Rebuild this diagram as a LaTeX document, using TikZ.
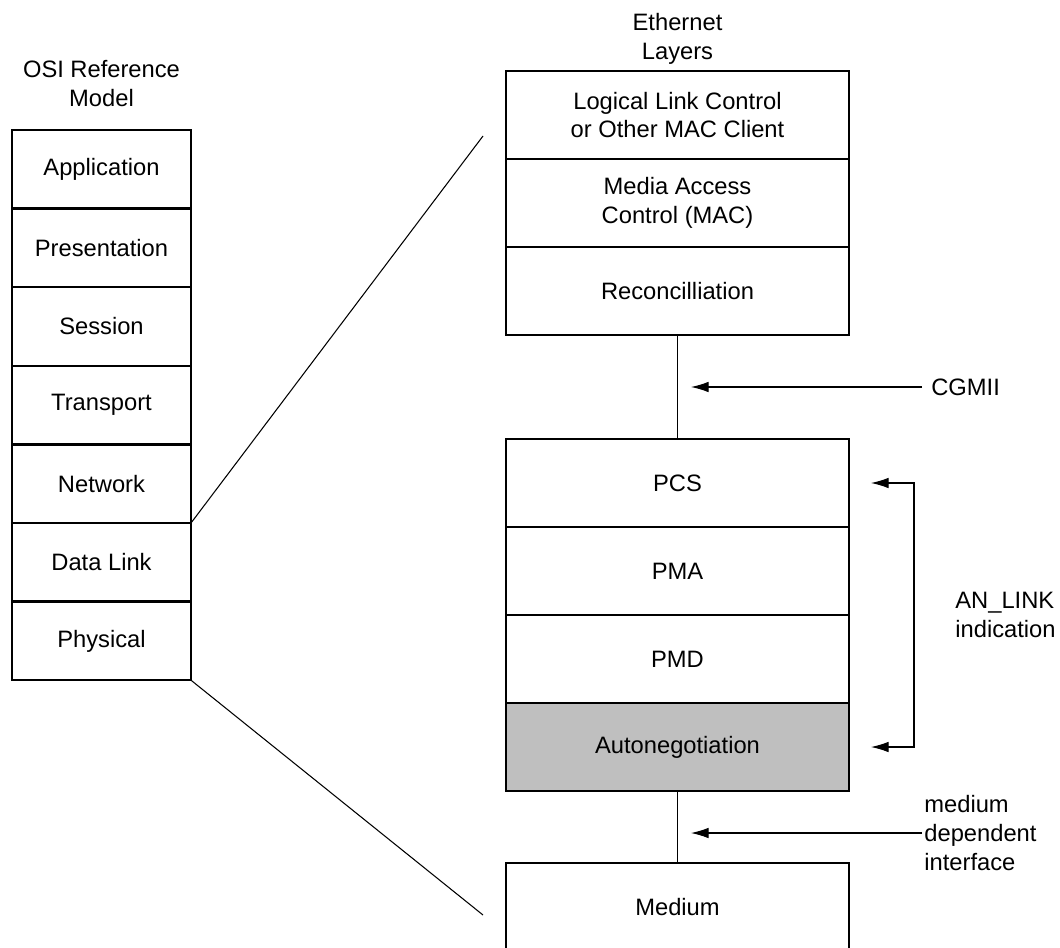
\documentclass[tikz,border=0pt]{standalone}
\usepackage{fontspec}
\setmainfont{Liberation Sans}
\usetikzlibrary{arrows.meta,calc,positioning}

\tikzset{
  osibox/.style={draw,line width=1.3pt,outer sep=0pt,minimum width=3.58cm,minimum height=1.572cm,align=center},
  ethbox/.style={draw,line width=1.3pt,outer sep=0pt,minimum width=6.86cm,minimum height=1.76cm,align=center},
  lbl/.style={inner sep=0pt,align=left},
  ttl/.style={inner sep=0pt,align=center},
  link/.style={line width=0.6pt},
  tip/.style={-{Latex[length=10pt,width=6pt]},line width=0.6pt}
}

\begin{document}
\begin{tikzpicture}[font=\fontsize{13.5}{16.4}\selectfont]
  \clip (0,0) rectangle (21.2,-18.94);
  % OSI stack
  \node[osibox] (app) at (2.03,-3.386) {Application};
  \node[osibox,below=0pt of app] (pres) {Presentation};
  \node[osibox,below=0pt of pres] (sess) {Session};
  \node[osibox,below=0pt of sess] (trans) {Transport};
  \node[osibox,below=0pt of trans] (net) {Network};
  \node[osibox,below=0pt of net] (dlink) {Data Link};
  \node[osibox,below=0pt of dlink] (phys) {Physical};
  \node[ttl,above=0.46cm of app] (osititle) {OSI Reference\\Model};

  % Ethernet stack
  \node[ethbox] (llc) at (13.55,-2.3) {Logical Link Control\\or Other MAC Client};
  \node[ethbox,below=0pt of llc] (mac) {Media Access\\Control (MAC)};
  \node[ethbox,below=0pt of mac] (rec) {Reconcilliation};
  \node[ethbox,below=2.08cm of rec] (pcs) {PCS};
  \node[ethbox,below=0pt of pcs] (pma) {PMA};
  \node[ethbox,below=0pt of pma] (pmd) {PMD};
  \node[ethbox,fill=black!25,below=0pt of pmd] (auto) {Autonegotiation};
  \node[ethbox,below=1.44cm of auto] (medium) {Medium};
  \node[ttl,above=0.12cm of llc] (ethtitle) {Ethernet\\Layers};

  \draw[link] (rec) -- (pcs);
  \draw[link] (auto) -- (medium);

  % zoom lines
  \coordinate (ethtop) at (9.66,-2.72);
  \coordinate (ethbot) at (9.66,-18.3);
  \draw[link] (dlink.north east) -- (ethtop);
  \draw[link] (phys.south east) -- (ethbot);

  % interfaces
  \coordinate (cgtip) at ($(rec.south)!0.5!(pcs.north)+(0.27,0)$);
  \node[lbl,anchor=west] (cgmii) at ($(cgtip)+(4.8,0)$) {CGMII};
  \draw[tip,shorten <=0.18cm] (cgmii.west) -- (cgtip);

  \coordinate (mdtip) at ($(auto.south)!0.5!(medium.north)+(0.27,-0.12)$);
  \node[lbl,anchor=west] (mdi) at ($(mdtip)+(4.66,0)$) {medium\\dependent\\interface};
  \draw[tip,shorten <=0.04cm] (mdi.west) -- (mdtip);

  \coordinate (antop) at ([xshift=0.44cm]pcs.east);
  \coordinate (anbot) at ([xshift=0.44cm]auto.east);
  \draw[{Latex[length=10pt,width=6pt]}-{Latex[length=10pt,width=6pt]},link] (antop) -- ++(0.86,0) |- (anbot);
  \node[lbl,anchor=west] (anlink) at ($(antop)!0.5!(anbot)+(1.68,0)$) {AN\_LINK\\indication};
\end{tikzpicture}
\end{document}
